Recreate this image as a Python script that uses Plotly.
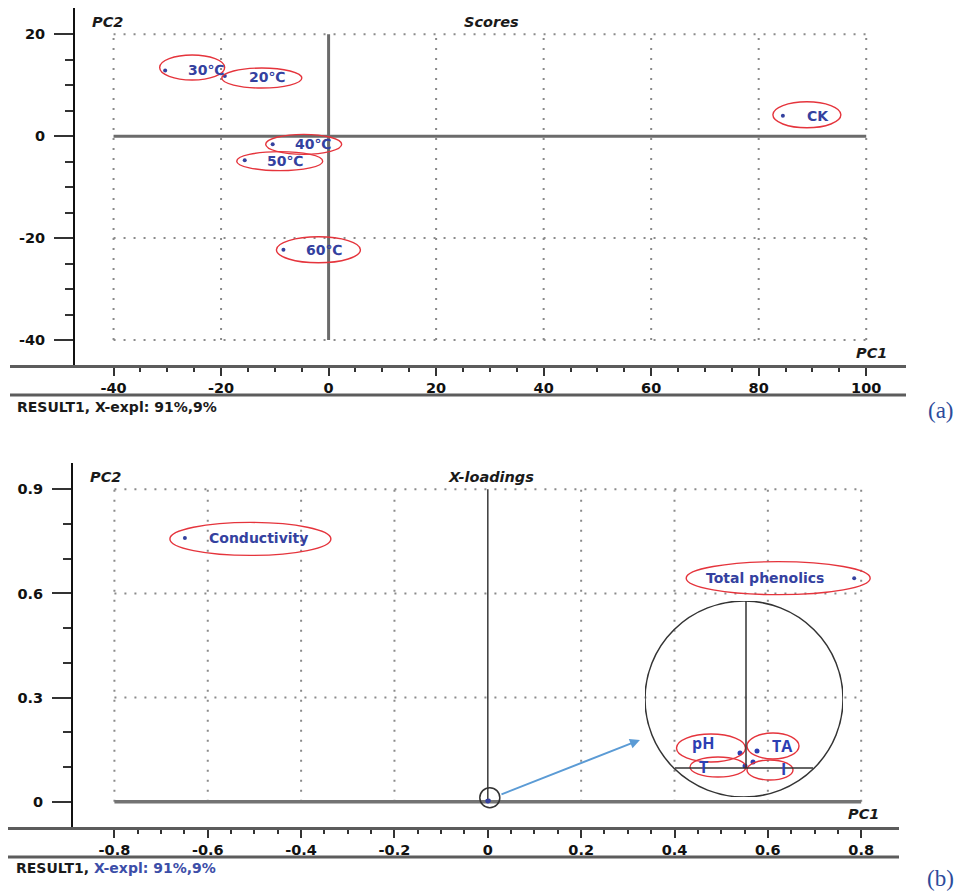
import plotly.graph_objects as go

W, H = 957, 892

# ---------------- data ----------------
# (a) Scores
score_names = ["30℃", "20℃", "40℃", "50℃", "60℃", "CK"]
score_pc1 = [-30.4, -19.3, -10.4, -15.6, -8.4, 84.5]
score_pc2 = [12.9, 11.8, -1.6, -4.7, -22.3, 4.0]

# (b) X-loadings
load_names = ["Conductivity", "Total phenolics"]
load_pc1 = [-0.649, 0.785]
load_pc2 = [0.760, 0.644]

# loadings clustered at the origin (shown magnified in the inset)
cluster_names = ["pH", "TA", "T", "I"]
cluster_pc1 = [-0.0012, 0.0022, -0.0002, 0.0014]
cluster_pc2 = [0.0030, 0.0034, 0.0004, 0.0012]

# ticks
a_xticks = [-40, -20, 0, 20, 40, 60, 80, 100]
a_xlabels = ["-40", "-20", "0", "20", "40", "60", "80", "100"]
a_yticks = [-40, -20, 0, 20]
a_ylabels = ["-40", "-20", "0", "20"]
b_xticks = [-0.8, -0.6, -0.4, -0.2, 0, 0.2, 0.4, 0.6, 0.8]
b_xlabels = ["-0.8", "-0.6", "-0.4", "-0.2", "0", "0.2", "0.4", "0.6", "0.8"]
b_yticks = [0, 0.3, 0.6, 0.9]
b_ylabels = ["0", "0.3", "0.6", "0.9"]

# ---------------- styles ----------------
BLUE = "#34419f"
RED = "#e5343c"
GRID = "#8a8a8a"
AXC = "#333333"
SANS = "DejaVu Sans, Verdana, sans-serif"


def px(x):
    return x / W


def py(y):
    return 1 - y / H


a_xminor = [v for v in range(-40, 101, 5) if v % 20 != 0]
a_yminor = [v for v in range(-40, 21, 5) if v % 20 != 0]
b_xminor = [round(-0.8 + 0.05 * i, 2) for i in range(33) if i % 4 != 0]
b_yminor = [round(0.1 * i, 1) for i in range(10) if i % 3 != 0]

tickfont = dict(family=SANS, size=14.5, color="#111111", weight="bold")


def xaxis_cfg(domain, rng, pos, tv, tt, minor):
    return dict(domain=domain, range=rng, anchor="free", position=pos,
                showgrid=False, zeroline=False, showline=True, linecolor="#5c5c5c", linewidth=3,
                ticks="outside", ticklen=8, tickwidth=2, tickcolor=AXC,
                tickmode="array", tickvals=tv, ticktext=tt, tickfont=tickfont,
                minor=dict(tickmode="array", tickvals=minor, ticks="outside", ticklen=4,
                           tickwidth=2, tickcolor=AXC, showgrid=False),
                fixedrange=True)


def yaxis_cfg(domain, rng, pos, tv, tt, minor):
    return dict(domain=domain, range=rng, anchor="free", position=pos,
                showgrid=False, zeroline=False, showline=True, linecolor="#111111", linewidth=2,
                ticks="outside", ticklen=19, tickwidth=2, tickcolor=AXC,
                tickmode="array", tickvals=tv, ticktext=tt, tickfont=tickfont,
                ticklabelstandoff=6,
                minor=dict(tickmode="array", tickvals=minor, ticks="outside", ticklen=8,
                           tickwidth=2, tickcolor=AXC, showgrid=False),
                fixedrange=True)


fig = go.Figure()

fig.add_trace(go.Scatter(x=score_pc1, y=score_pc2, mode="markers", xaxis="x", yaxis="y",
                         marker=dict(size=4, color=BLUE), hoverinfo="skip", showlegend=False))
fig.add_trace(go.Scatter(x=load_pc1, y=load_pc2, mode="markers", xaxis="x2", yaxis="y2",
                         marker=dict(size=4, color=BLUE), hoverinfo="skip", showlegend=False))
fig.add_trace(go.Scatter(x=cluster_pc1, y=cluster_pc2, mode="markers", xaxis="x2", yaxis="y2",
                         marker=dict(size=4, color=BLUE), hoverinfo="skip", showlegend=False))
# inset (magnified origin)
fig.add_trace(go.Scatter(x=cluster_pc1, y=cluster_pc2, mode="markers", xaxis="x3", yaxis="y3",
                         marker=dict(size=5, color="#2d3fb3"), hoverinfo="skip", showlegend=False))

fig.update_layout(
    width=W, height=H, autosize=False,
    margin=dict(l=0, r=0, t=0, b=0),
    paper_bgcolor="white", plot_bgcolor="rgba(0,0,0,0)",
    showlegend=False,
    xaxis=xaxis_cfg([px(10), px(906)], [-59.26, 107.4], py(366), a_xticks, a_xlabels, a_xminor),
    yaxis=yaxis_cfg([py(365), py(8)], [-44.91, 25.16], px(74), a_yticks, a_ylabels, a_yminor),
    xaxis2=xaxis_cfg([px(8), px(899)], [-1.028, 0.881], py(828), b_xticks, b_xlabels, b_xminor),
    yaxis2=yaxis_cfg([py(827), py(463)], [-0.0729, 0.9758], px(72), b_yticks, b_ylabels, b_yminor),
    xaxis3=dict(domain=[px(645), px(843)], range=[-0.0202, 0.0194], anchor="y3", visible=False, fixedrange=True),
    yaxis3=dict(domain=[py(797), py(601)], range=[-0.0058, 0.0334], anchor="x3", visible=False, fixedrange=True),
)

shapes = []
dot = dict(color=GRID, width=2, dash="2px,8px")

# grid (a)
for gx in [-40, -20, 20, 40, 60, 80, 100]:
    shapes.append(dict(type="line", xref="x", yref="y", x0=gx, x1=gx, y0=-40, y1=20, line=dot, layer="below"))
for gy in [20, -20, -40]:
    shapes.append(dict(type="line", xref="x", yref="y", x0=-40, x1=100, y0=gy, y1=gy, line=dot, layer="below"))
shapes.append(dict(type="line", xref="x", yref="y", x0=-40, x1=100, y0=0, y1=0,
                   line=dict(color="#6b6b6b", width=3), layer="below"))
shapes.append(dict(type="line", xref="x", yref="y", x0=0, x1=0, y0=-40, y1=20,
                   line=dict(color="#6b6b6b", width=3), layer="below"))

# grid (b)
for gx in [-0.8, -0.6, -0.4, -0.2, 0.2, 0.4, 0.6, 0.8]:
    shapes.append(dict(type="line", xref="x2", yref="y2", x0=gx, x1=gx, y0=0, y1=0.9, line=dot, layer="below"))
for gy in [0.9, 0.6, 0.3]:
    shapes.append(dict(type="line", xref="x2", yref="y2", x0=-0.8, x1=0.8, y0=gy, y1=gy, line=dot, layer="below"))
shapes.append(dict(type="line", xref="x2", yref="y2", x0=-0.8, x1=0.8, y0=0, y1=0,
                   line=dict(color="#737373", width=3.5), layer="below"))
shapes.append(dict(type="line", xref="x2", yref="y2", x0=0, x1=0, y0=0, y1=0.9,
                   line=dict(color="#3a3a3a", width=1.5), layer="below"))

# lines below the tick labels
shapes.append(dict(type="line", xref="paper", yref="paper", x0=px(10), x1=px(906), y0=py(395), y1=py(395),
                   line=dict(color="#5c5c5c", width=3)))
shapes.append(dict(type="line", xref="paper", yref="paper", x0=px(8), x1=px(899), y0=py(857), y1=py(857),
                   line=dict(color="#5c5c5c", width=3)))


def ellipse(xr, yr, xv, yv, dx, dy, rx, ry, color=RED, width=1.4):
    # dx, dy are screen-pixel offsets (dy positive downward)
    return dict(type="circle", xref=xr, yref=yr, xsizemode="pixel", ysizemode="pixel",
                xanchor=xv, yanchor=yv, x0=dx - rx, x1=dx + rx, y0=-dy - ry, y1=-dy + ry,
                line=dict(color=color, width=width))


# ellipse offsets (dx, dy, rx, ry) per label
score_ell = [(27, -3, 32.5, 12.5), (37, 2, 40, 10), (31, 0, 38, 10),
             (35, 1, 43, 9.5), (35, 0, 42, 13), (24, -1, 34, 13)]
score_txt = [(41, 0), (42, 1), (40, 0), (40, 1), (41, 0), (35, 0)]
for i, n in enumerate(score_names):
    dx, dy, rx, ry = score_ell[i]
    shapes.append(ellipse("x", "y", score_pc1[i], score_pc2[i], dx, dy, rx, ry))

load_ell = [(65.5, 1, 80.5, 16.5), (-76, 0, 92, 16.5)]
load_txt = [(74, 0), (-89, 0)]
for i, n in enumerate(load_names):
    dx, dy, rx, ry = load_ell[i]
    shapes.append(ellipse("x2", "y2", load_pc1[i], load_pc2[i], dx, dy, rx, ry))

cl_ell = [(-29, -5, 34.5, 14), (16, -5, 26, 13), (-27, 1, 28, 10), (17, 8, 23, 10)]
cl_txt = [(-37, -10), (25, -5), (-42, 1), (30, 7)]
for i, n in enumerate(cluster_names):
    dx, dy, rx, ry = cl_ell[i]
    shapes.append(ellipse("x3", "y3", cluster_pc1[i], cluster_pc2[i], dx, dy, rx, ry))

# small circle round the origin
shapes.append(ellipse("x2", "y2", 0, 0, 2, -4, 10, 10, color="#333333", width=1.5))

# inset circle and its crosshair
shapes.append(dict(type="circle", xref="x3", yref="y3", x0=-0.0202, x1=0.0194, y0=-0.0058, y1=0.0334,
                   line=dict(color="#333333", width=1.5)))
shapes.append(dict(type="line", xref="x3", yref="y3", x0=0, x1=0, y0=0, y1=0.0334,
                   line=dict(color="#333333", width=1.5)))
shapes.append(dict(type="line", xref="x3", yref="y3", x0=-0.0142, x1=0.0134, y0=0, y1=0,
                   line=dict(color="#333333", width=1.5)))

fig.update_layout(shapes=shapes)

ann = []
lab_font = dict(family=SANS, size=14, color=BLUE, weight="bold")
for i, n in enumerate(score_names):
    dx, dy = score_txt[i]
    ann.append(dict(xref="x", yref="y", x=score_pc1[i], y=score_pc2[i], text=n, showarrow=False,
                    xshift=dx, yshift=-dy, font=lab_font))
for i, n in enumerate(load_names):
    dx, dy = load_txt[i]
    ann.append(dict(xref="x2", yref="y2", x=load_pc1[i], y=load_pc2[i], text=n, showarrow=False,
                    xshift=dx, yshift=-dy, font=lab_font))
in_font = dict(family="Open Sans, Noto Sans, sans-serif", size=16, color="#2d3fb3", weight="bold")
for i, n in enumerate(cluster_names):
    dx, dy = cl_txt[i]
    ann.append(dict(xref="x3", yref="y3", x=cluster_pc1[i], y=cluster_pc2[i], text=n, showarrow=False,
                    xshift=dx, yshift=-dy, font=in_font))

# arrow from the origin to the inset
ann.append(dict(xref="x2", yref="y2", x=0.326, y=0.178, ax=-140, ay=55, text="", showarrow=True,
                arrowhead=2, arrowsize=1, arrowwidth=2, arrowcolor="#5b9bd5"))

tfont = dict(family=SANS, size=14.5, color="#1a1a1a", weight="bold", style="italic")
bfont = dict(family=SANS, size=14, color="#1a1a1a", weight="bold")
pfont = dict(family="Liberation Serif, Times New Roman, serif", size=23, color="#2d4b9b")


def pa(text, x, y, font, xanchor="left"):
    return dict(xref="paper", yref="paper", x=px(x), y=py(y), text=text, showarrow=False,
                xanchor=xanchor, yanchor="middle", font=font)


ann += [
    pa("PC2", 90, 22, tfont),
    pa("Scores", 491, 22, tfont, "center"),
    pa("PC1", 889, 353, tfont, "right"),
    pa("RESULT1, X-expl: 91%,9%", 15, 407, bfont),
    pa("(a)", 956, 411, pfont, "right"),
    pa("PC2", 88, 477, tfont),
    pa("X-loadings", 491, 477, tfont, "center"),
    pa("PC1", 881, 814, tfont, "right"),
    pa('RESULT1, <span style="color:#3c4ea8">X-expl: 91%,9%</span>', 14, 868, bfont),
    pa("(b)", 956, 878, pfont, "right"),
]
fig.update_layout(annotations=ann)

fig.write_html("out.html", config={"displayModeBar": False, "staticPlot": True},
               post_script="document.body.style.margin='0';document.body.style.overflow='hidden';")
